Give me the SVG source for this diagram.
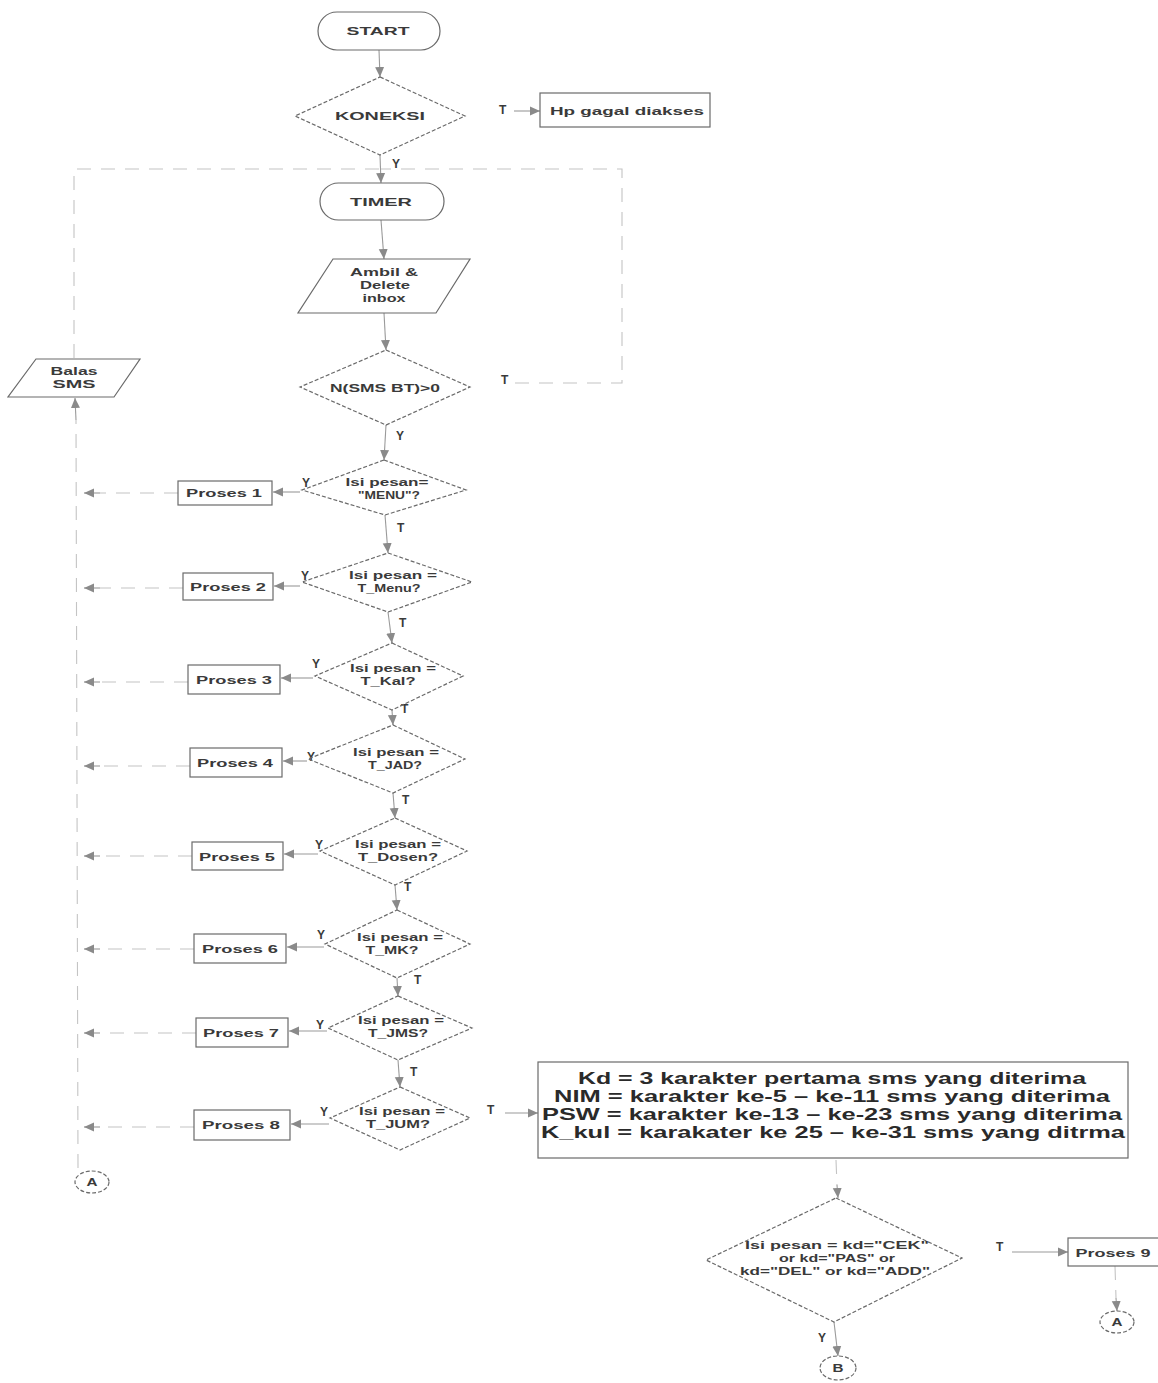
<svg xmlns="http://www.w3.org/2000/svg" width="1158" height="1383" viewBox="0 0 1158 1383">
  <style>
    .bg { fill: #ffffff; }
    .shape { fill: none; stroke: #6a6a6a; stroke-width: 1.2; }
    .dia { fill: none; stroke: #6a6a6a; stroke-width: 1.2; stroke-dasharray: 4 2; }
    .edge { fill: none; stroke: #9a9a9a; stroke-width: 1.1; }
    .faint { fill: none; stroke: #c4c4c4; stroke-width: 1.1; stroke-dasharray: 14 10; }
    .t { font-family: "Liberation Sans", Arial, sans-serif; font-size: 11.5px; font-weight: bold; fill: #3a3a3a; text-anchor: middle; }
    .lbl { font-family: "Liberation Sans", Arial, sans-serif; font-size: 12px; font-weight: bold; fill: #3a3a3a; }
    .big { font-family: "Liberation Sans", Arial, sans-serif; font-size: 17px; font-weight: bold; fill: #2a2a2a; text-anchor: middle; }
  </style>
  <defs>
    <marker id="ah" viewBox="0 0 10 10" refX="10" refY="5" markerWidth="10" markerHeight="10" markerUnits="userSpaceOnUse" orient="auto">
      <path d="M0,0.5 L10,5 L0,9.5 z" fill="#8a8a8a"/>
    </marker>
  </defs>
  <rect class="bg" x="0" y="0" width="1158" height="1383"/>

  <!-- connectors -->
  <g id="connectors">
    <line class="edge" x1="379" y1="50" x2="380" y2="77" marker-end="url(#ah)"/>
    <line class="edge" x1="514" y1="111" x2="540" y2="111" marker-end="url(#ah)"/>
    <line class="edge" x1="380" y1="155" x2="381" y2="183" marker-end="url(#ah)"/>
    <line class="edge" x1="381" y1="220" x2="384" y2="259" marker-end="url(#ah)"/>
    <line class="edge" x1="384" y1="313" x2="386" y2="350" marker-end="url(#ah)"/>
    <line class="edge" x1="386" y1="425" x2="384" y2="460" marker-end="url(#ah)"/>
    <!-- loop back to the timer -->
    <polyline class="faint" points="515,383 622,383 622,169 381,169"/>
    <polyline class="faint" points="74,358 74,169 381,169"/>
    <!-- return trunk up to Balas SMS -->
    <line class="faint" x1="78" y1="1168" x2="76" y2="420"/>
    <line class="edge" x1="76" y1="420" x2="75" y2="398" marker-end="url(#ah)"/>

    <!-- decision chain -->
    <line class="edge" x1="385" y1="515" x2="388" y2="553" marker-end="url(#ah)"/>
    <line class="edge" x1="388" y1="612" x2="392" y2="643" marker-end="url(#ah)"/>
    <line class="edge" x1="392" y1="710" x2="393" y2="725" marker-end="url(#ah)"/>
    <line class="edge" x1="393" y1="793" x2="395" y2="818" marker-end="url(#ah)"/>
    <line class="edge" x1="395" y1="885" x2="397" y2="910" marker-end="url(#ah)"/>
    <line class="edge" x1="397" y1="978" x2="398" y2="996" marker-end="url(#ah)"/>
    <line class="edge" x1="398" y1="1060" x2="400" y2="1087" marker-end="url(#ah)"/>

    <!-- Y branches to Proses boxes -->
    <line class="edge" x1="300" y1="492" x2="273" y2="492" marker-end="url(#ah)"/>
    <line class="edge" x1="300" y1="586" x2="274" y2="586" marker-end="url(#ah)"/>
    <line class="edge" x1="313" y1="678" x2="281" y2="678" marker-end="url(#ah)"/>
    <line class="edge" x1="307" y1="761" x2="283" y2="761" marker-end="url(#ah)"/>
    <line class="edge" x1="318" y1="854" x2="284" y2="854" marker-end="url(#ah)"/>
    <line class="edge" x1="324" y1="947" x2="287" y2="947" marker-end="url(#ah)"/>
    <line class="edge" x1="327" y1="1031" x2="289" y2="1031" marker-end="url(#ah)"/>
    <line class="edge" x1="329" y1="1124" x2="291" y2="1124" marker-end="url(#ah)"/>

    <!-- Proses boxes back to trunk -->
    <line class="faint" x1="178" y1="493" x2="100" y2="493"/>
    <line class="faint" x1="183" y1="588" x2="100" y2="588"/>
    <line class="faint" x1="188" y1="682" x2="100" y2="682"/>
    <line class="faint" x1="190" y1="766" x2="100" y2="766"/>
    <line class="faint" x1="192" y1="856" x2="100" y2="856"/>
    <line class="faint" x1="194" y1="949" x2="100" y2="949"/>
    <line class="faint" x1="196" y1="1033" x2="100" y2="1033"/>
    <line class="faint" x1="194" y1="1127" x2="100" y2="1127"/>
    <line class="edge" x1="100" y1="493" x2="84" y2="493" marker-end="url(#ah)"/>
    <line class="edge" x1="100" y1="588" x2="84" y2="588" marker-end="url(#ah)"/>
    <line class="edge" x1="100" y1="682" x2="84" y2="682" marker-end="url(#ah)"/>
    <line class="edge" x1="100" y1="766" x2="84" y2="766" marker-end="url(#ah)"/>
    <line class="edge" x1="100" y1="856" x2="84" y2="856" marker-end="url(#ah)"/>
    <line class="edge" x1="100" y1="949" x2="84" y2="949" marker-end="url(#ah)"/>
    <line class="edge" x1="100" y1="1033" x2="84" y2="1033" marker-end="url(#ah)"/>
    <line class="edge" x1="100" y1="1127" x2="84" y2="1127" marker-end="url(#ah)"/>

    <!-- T branch to the parsing box -->
    <line class="edge" x1="505" y1="1113" x2="538" y2="1113" marker-end="url(#ah)"/>
    <line class="faint" x1="836" y1="1160" x2="837" y2="1185"/>
    <line class="edge" x1="837" y1="1185" x2="838" y2="1198" marker-end="url(#ah)"/>
    <line class="edge" x1="1012" y1="1252" x2="1068" y2="1252" marker-end="url(#ah)"/>
    <line class="faint" x1="1115" y1="1266" x2="1116" y2="1298"/>
    <line class="edge" x1="1116" y1="1298" x2="1117" y2="1311" marker-end="url(#ah)"/>
    <line class="edge" x1="834" y1="1322" x2="838" y2="1356" marker-end="url(#ah)"/>

    <!-- branch labels -->
    <text class="lbl" x="499" y="114">T</text>
    <text class="lbl" x="392" y="168">Y</text>
    <text class="lbl" x="501" y="384">T</text>
    <text class="lbl" x="396" y="440">Y</text>
    <text class="lbl" x="302" y="487">Y</text>
    <text class="lbl" x="397" y="532">T</text>
    <text class="lbl" x="301" y="580">Y</text>
    <text class="lbl" x="399" y="627">T</text>
    <text class="lbl" x="312" y="668">Y</text>
    <text class="lbl" x="401" y="713">T</text>
    <text class="lbl" x="307" y="761">Y</text>
    <text class="lbl" x="402" y="804">T</text>
    <text class="lbl" x="315" y="849">Y</text>
    <text class="lbl" x="404" y="891">T</text>
    <text class="lbl" x="317" y="939">Y</text>
    <text class="lbl" x="414" y="984">T</text>
    <text class="lbl" x="316" y="1029">Y</text>
    <text class="lbl" x="410" y="1076">T</text>
    <text class="lbl" x="320" y="1116">Y</text>
    <text class="lbl" x="487" y="1114">T</text>
    <text class="lbl" x="996" y="1251">T</text>
    <text class="lbl" x="818" y="1342">Y</text>
  </g>

  <!-- terminals -->
  <g id="start">
    <rect class="shape" x="318" y="12" width="122" height="38" rx="19"/>
    <text class="t" x="378" y="35" textLength="63" lengthAdjust="spacingAndGlyphs">START</text>
  </g>
  <g id="koneksi">
    <polygon class="dia" points="380,77 465,116 380,155 295,116"/>
    <text class="t" x="380" y="120" textLength="90" lengthAdjust="spacingAndGlyphs">KONEKSI</text>
  </g>
  <g id="hp-gagal">
    <rect class="shape" x="540" y="93" width="170" height="34"/>
    <text class="t" x="627" y="115" textLength="154" lengthAdjust="spacingAndGlyphs">Hp gagal diakses</text>
  </g>
  <g id="timer">
    <rect class="shape" x="320" y="183" width="124" height="37" rx="18.5"/>
    <text class="t" x="381" y="206" textLength="62" lengthAdjust="spacingAndGlyphs">TIMER</text>
  </g>
  <g id="ambil-inbox">
    <polygon class="shape" points="333,259 470,259 436,313 298,313"/>
    <text class="t" x="384" y="276" textLength="68" lengthAdjust="spacingAndGlyphs">Ambil &amp;</text>
    <text class="t" x="385" y="289" textLength="50" lengthAdjust="spacingAndGlyphs">Delete</text>
    <text class="t" x="384" y="302" textLength="43" lengthAdjust="spacingAndGlyphs">inbox</text>
  </g>
  <g id="cek-sms">
    <polygon class="dia" points="386,350 470,387 386,425 300,387"/>
    <text class="t" x="385" y="392" textLength="110" lengthAdjust="spacingAndGlyphs">N(SMS BT)&gt;0</text>
  </g>
  <g id="balas-sms">
    <polygon class="shape" points="36,359 140,359 114,397 8,397"/>
    <text class="t" x="74" y="375" textLength="47" lengthAdjust="spacingAndGlyphs">Balas</text>
    <text class="t" x="74" y="388" textLength="43" lengthAdjust="spacingAndGlyphs">SMS</text>
  </g>

  <!-- message checks -->
  <g id="cek-menu">
    <polygon class="dia" points="384,460 466,490 385,515 302,490"/>
    <text class="t" x="387" y="486" textLength="83" lengthAdjust="spacingAndGlyphs">Isi pesan=</text>
    <text class="t" x="389" y="499" textLength="62" lengthAdjust="spacingAndGlyphs">"MENU"?</text>
  </g>
  <g id="proses-1">
    <rect class="shape" x="178" y="481" width="94" height="24"/>
    <text class="t" x="224" y="497" textLength="76" lengthAdjust="spacingAndGlyphs">Proses 1</text>
  </g>

  <g id="cek-t-menu">
    <polygon class="dia" points="388,553 472,582 388,612 302,582"/>
    <text class="t" x="393" y="579" textLength="88" lengthAdjust="spacingAndGlyphs">Isi pesan =</text>
    <text class="t" x="389" y="592" textLength="63" lengthAdjust="spacingAndGlyphs">T_Menu?</text>
  </g>
  <g id="proses-2">
    <rect class="shape" x="183" y="573" width="90" height="27"/>
    <text class="t" x="228" y="591" textLength="76" lengthAdjust="spacingAndGlyphs">Proses 2</text>
  </g>

  <g id="cek-t-kal">
    <polygon class="dia" points="392,643 463,676 392,710 315,676"/>
    <text class="t" x="393" y="672" textLength="86" lengthAdjust="spacingAndGlyphs">Isi pesan =</text>
    <text class="t" x="388" y="685" textLength="55" lengthAdjust="spacingAndGlyphs">T_Kal?</text>
  </g>
  <g id="proses-3">
    <rect class="shape" x="188" y="665" width="92" height="29"/>
    <text class="t" x="234" y="684" textLength="76" lengthAdjust="spacingAndGlyphs">Proses 3</text>
  </g>

  <g id="cek-t-jad">
    <polygon class="dia" points="393,725 465,759 393,793 308,759"/>
    <text class="t" x="396" y="756" textLength="86" lengthAdjust="spacingAndGlyphs">Isi pesan =</text>
    <text class="t" x="395" y="769" textLength="54" lengthAdjust="spacingAndGlyphs">T_JAD?</text>
  </g>
  <g id="proses-4">
    <rect class="shape" x="190" y="748" width="92" height="29"/>
    <text class="t" x="235" y="767" textLength="76" lengthAdjust="spacingAndGlyphs">Proses 4</text>
  </g>

  <g id="cek-t-dosen">
    <polygon class="dia" points="395,818 467,851 395,885 320,851"/>
    <text class="t" x="398" y="848" textLength="86" lengthAdjust="spacingAndGlyphs">Isi pesan =</text>
    <text class="t" x="398" y="861" textLength="80" lengthAdjust="spacingAndGlyphs">T_Dosen?</text>
  </g>
  <g id="proses-5">
    <rect class="shape" x="192" y="842" width="91" height="28"/>
    <text class="t" x="237" y="861" textLength="76" lengthAdjust="spacingAndGlyphs">Proses 5</text>
  </g>

  <g id="cek-t-mk">
    <polygon class="dia" points="397,910 470,944 397,978 325,944"/>
    <text class="t" x="400" y="941" textLength="86" lengthAdjust="spacingAndGlyphs">Isi pesan =</text>
    <text class="t" x="392" y="954" textLength="53" lengthAdjust="spacingAndGlyphs">T_MK?</text>
  </g>
  <g id="proses-6">
    <rect class="shape" x="194" y="934" width="92" height="29"/>
    <text class="t" x="240" y="953" textLength="76" lengthAdjust="spacingAndGlyphs">Proses 6</text>
  </g>

  <g id="cek-t-jms">
    <polygon class="dia" points="398,996 472,1028 398,1060 328,1028"/>
    <text class="t" x="401" y="1024" textLength="86" lengthAdjust="spacingAndGlyphs">Isi pesan =</text>
    <text class="t" x="398" y="1037" textLength="60" lengthAdjust="spacingAndGlyphs">T_JMS?</text>
  </g>
  <g id="proses-7">
    <rect class="shape" x="196" y="1018" width="92" height="29"/>
    <text class="t" x="241" y="1037" textLength="76" lengthAdjust="spacingAndGlyphs">Proses 7</text>
  </g>

  <g id="cek-t-jum">
    <polygon class="dia" points="400,1087 470,1118 400,1150 330,1118"/>
    <text class="t" x="402" y="1115" textLength="86" lengthAdjust="spacingAndGlyphs">Isi pesan =</text>
    <text class="t" x="398" y="1128" textLength="64" lengthAdjust="spacingAndGlyphs">T_JUM?</text>
  </g>
  <g id="proses-8">
    <rect class="shape" x="194" y="1110" width="96" height="30"/>
    <text class="t" x="241" y="1129" textLength="78" lengthAdjust="spacingAndGlyphs">Proses 8</text>
  </g>

  <g id="connector-a-left">
    <ellipse class="dia" cx="92" cy="1182" rx="17" ry="11"/>
    <text class="t" x="92" y="1186" textLength="11" lengthAdjust="spacingAndGlyphs">A</text>
  </g>

  <!-- parsing of the received sms -->
  <g id="parse-sms">
    <rect class="shape" x="538" y="1062" width="590" height="96"/>
    <text class="big" x="832" y="1084" textLength="508" lengthAdjust="spacingAndGlyphs">Kd = 3 karakter pertama sms yang diterima</text>
    <text class="big" x="832" y="1102" textLength="556" lengthAdjust="spacingAndGlyphs">NIM = karakter ke-5 – ke-11 sms yang diterima</text>
    <text class="big" x="832" y="1120" textLength="580" lengthAdjust="spacingAndGlyphs">PSW = karakter ke-13 – ke-23 sms yang diterima</text>
    <text class="big" x="833" y="1138" textLength="584" lengthAdjust="spacingAndGlyphs">K_kul = karakater ke 25 – ke-31 sms yang ditrma</text>
  </g>

  <g id="cek-kode">
    <polygon class="dia" points="836,1198 962,1258 834,1322 706,1260"/>
    <text class="t" x="837" y="1249" textLength="184" lengthAdjust="spacingAndGlyphs">Isi pesan = kd="CEK"</text>
    <text class="t" x="837" y="1262" textLength="116" lengthAdjust="spacingAndGlyphs">or kd="PAS" or</text>
    <text class="t" x="835" y="1275" textLength="190" lengthAdjust="spacingAndGlyphs">kd="DEL" or kd="ADD"</text>
  </g>
  <g id="proses-9">
    <rect class="shape" x="1068" y="1238" width="92" height="28"/>
    <text class="t" x="1113" y="1257" textLength="75" lengthAdjust="spacingAndGlyphs">Proses 9</text>
  </g>
  <g id="connector-a-right">
    <ellipse class="dia" cx="1117" cy="1322" rx="17" ry="11"/>
    <text class="t" x="1117" y="1326" textLength="11" lengthAdjust="spacingAndGlyphs">A</text>
  </g>
  <g id="connector-b">
    <ellipse class="dia" cx="838" cy="1368" rx="18" ry="12"/>
    <text class="t" x="838" y="1372" textLength="11" lengthAdjust="spacingAndGlyphs">B</text>
  </g>
</svg>
